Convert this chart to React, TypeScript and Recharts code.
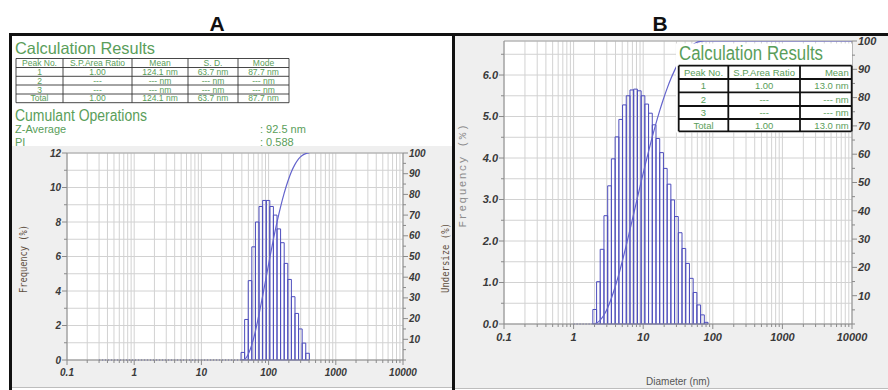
import React from 'react';
import { ComposedChart, Line, XAxis, YAxis, CartesianGrid, ReferenceArea, ReferenceLine } from 'recharts';

// ---------- shared axis ticks ----------
const xMajorTicks = [0.1, 1, 10, 100, 1000, 10000];
const xMajorLabels = ['0.1', '1', '10', '100', '1000', '10000'];
const xMinorSteps = [2, 3, 4, 5, 6, 7, 8, 9];
const undersizeTicks = [0, 5, 10, 15, 20, 25, 30, 35, 40, 45, 50, 55, 60, 65, 70, 75, 80, 85, 90, 95, 100];
const undersizeLabels = ['', '', '10', '', '20', '', '30', '', '40', '', '50', '', '60', '', '70', '', '80', '', '90', '', '100'];

// ---------- panel A ----------
const binEdgesA = [38.9, 44.0, 49.8, 56.3, 63.7, 72.0, 81.5, 92.2, 104.2, 117.9, 133.4, 150.8, 170.6, 193.0, 218.3, 246.9, 279.3, 315.9, 357.3, 404.2];
const freqA = [0.44, 2.35, 4.6, 6.56, 8.0, 8.9, 9.25, 9.25, 8.9, 8.4, 7.6, 6.8, 5.6, 4.67, 3.67, 2.7, 1.8, 0.98, 0.39];
const cumSizeA = [38.9, 44.0, 49.8, 56.3, 63.7, 72.0, 81.5, 92.2, 104.2, 117.9, 133.4, 150.8, 170.6, 193.0, 218.3, 246.9, 279.3, 315.9, 357.3, 404.2];
const cumA = [0, 0.4, 2.8, 7.4, 14.0, 22.0, 30.9, 40.1, 49.4, 58.3, 66.6, 74.0, 80.6, 86.2, 90.9, 94.5, 97.2, 98.8, 99.7, 100];
const freqTicksA = [0, 1, 2, 3, 4, 5, 6, 7, 8, 9, 10, 11, 12];
const freqLabelsA = ['0', '', '2', '', '4', '', '6', '', '8', '', '10', '', '12'];

// ---------- panel B ----------
const binEdgesB = [1.89, 2.14, 2.41, 2.73, 3.09, 3.49, 3.95, 4.47, 5.05, 5.71, 6.46, 7.30, 8.26, 9.34, 10.56, 11.94, 13.50, 15.27, 17.27, 19.53, 22.08, 24.97, 28.24, 31.93, 36.11, 40.83, 46.17, 52.22, 59.05, 66.77, 75.51, 85.39];
const freqB = [0.35, 1.02, 1.80, 2.61, 3.33, 3.98, 4.51, 4.93, 5.28, 5.50, 5.64, 5.66, 5.62, 5.50, 5.30, 5.08, 4.80, 4.47, 4.13, 3.75, 3.37, 2.99, 2.59, 2.20, 1.82, 1.46, 1.10, 0.76, 0.46, 0.22, 0.04];
const cumSizeB = [1.89, 2.14, 2.41, 2.73, 3.09, 3.49, 3.95, 4.47, 5.05, 5.71, 6.46, 7.30, 8.26, 9.34, 10.56, 11.94, 13.50, 15.27, 17.27, 19.53, 22.08, 24.97, 28.24, 31.93, 36.11, 40.83, 46.17, 52.22, 59.05, 66.77, 75.51, 85.39, 100, 1000, 10000];
const cumB = [0, 0.35, 1.37, 3.17, 5.78, 9.11, 13.09, 17.6, 22.53, 27.81, 33.31, 38.95, 44.61, 50.23, 55.73, 61.03, 66.11, 70.91, 75.38, 79.51, 83.26, 86.63, 89.62, 92.21, 94.41, 96.23, 97.69, 98.79, 99.55, 99.9, 100, 100, 100, 100, 100];
const freqTicksB = [0, 0.5, 1, 1.5, 2, 2.5, 3, 3.5, 4, 4.5, 5, 5.5, 6, 6.5];
const freqLabelsB = ['0.0', '', '1.0', '', '2.0', '', '3.0', '', '4.0', '', '5.0', '', '6.0', ''];

// ---------- tables ----------
const tableHeadA = ['Peak No.', 'S.P.Area Ratio', 'Mean', 'S. D.', 'Mode'];
const tableRowsA = [
  ['1', '1.00', '124.1 nm', '63.7 nm', '87.7 nm'],
  ['2', '---', '--- nm', '--- nm', '--- nm'],
  ['3', '---', '--- nm', '--- nm', '--- nm'],
  ['Total', '1.00', '124.1 nm', '63.7 nm', '87.7 nm'],
];
const tableHeadB = ['Peak No.', 'S.P.Area Ratio', 'Mean'];
const tableRowsB = [
  ['1', '1.00', '13.0 nm'],
  ['2', '---', '--- nm'],
  ['3', '---', '--- nm'],
  ['Total', '1.00', '13.0 nm'],
];
const zAverageA = '92.5 nm';
const piA = '0.588';

const xTicks: number[] = xMajorTicks.flatMap((d, i) =>
  i < xMajorTicks.length - 1 ? [d, ...xMinorSteps.map((m) => Number((d * m).toPrecision(3)))] : [d]
);

const BAR = '#4d4dbd';
const CURVE = '#6464cc';
const GRID = '#d2d2d2';
const AXIS = '#8a8a8a';
const LABEL = '#3a3a3a';
const GREEN = '#5a9e5a';

const tickFont = { fontFamily: 'Liberation Sans, Arial, sans-serif', fontStyle: 'italic' as const, fontWeight: 700 };

function makeXTick(dy: number, fs: number) {
  return (p: any) => {
    const v = p.payload.value;
    const idx = xMajorTicks.indexOf(v);
    const major = idx >= 0;
    return (
      <g>
        <line x1={p.x} x2={p.x} y1={p.y} y2={p.y + (major ? 5 : 3)} stroke={AXIS} strokeWidth={1} />
        {major && (
          <text x={p.x} y={p.y + dy} textAnchor="middle" fontSize={fs} fill={LABEL} {...tickFont}>
            {xMajorLabels[idx]}
          </text>
        )}
      </g>
    );
  };
}

function makeYTick(ticks: number[], labels: string[], side: 'left' | 'right', fs: number) {
  return (p: any) => {
    const v = p.payload.value;
    const idx = ticks.indexOf(v);
    const lab = idx >= 0 ? labels[idx] : '';
    const major = lab !== '' || (side === 'left' && v === 0);
    const len = major ? 5 : 3;
    const s = side === 'left' ? -1 : 1;
    return (
      <g>
        <line x1={p.x} x2={p.x + s * len} y1={p.y} y2={p.y} stroke={AXIS} strokeWidth={1} />
        {lab !== '' && (
          <text x={p.x + s * 6} y={p.y} dy="0.35em" textAnchor={side === 'left' ? 'end' : 'start'} fontSize={fs} fill={LABEL} {...tickFont}>
            {lab}
          </text>
        )}
      </g>
    );
  };
}

type PanelProps = {
  left: number; top: number; width: number; height: number; marginTop: number;
  leftW: number; rightW: number; xH: number;
  edges: number[]; freq: number[]; cumX: number[]; cum: number[];
  fMax: number; fTicks: number[]; fLabels: string[]; fs: number; xDy: number; zeroFrom: number;
};

function Panel(pp: PanelProps) {
  const data = pp.cumX.map((d, i) => ({ d, cum: pp.cum[i] }));
  return (
    <div style={{ position: 'absolute', left: pp.left, top: pp.top, width: pp.width, height: pp.height }}>
      <ComposedChart width={pp.width} height={pp.height} data={data} margin={{ top: pp.marginTop, right: 0, bottom: 0, left: 0 }}>
        <CartesianGrid yAxisId="left" stroke={GRID} strokeWidth={1} fill="#ffffff" />
        <XAxis dataKey="d" type="number" scale="log" domain={[0.1, 10000]} ticks={xTicks} interval={0}
          allowDataOverflow height={pp.xH} tickSize={0} tickMargin={0} tickLine={false}
          axisLine={{ stroke: AXIS }} tick={makeXTick(pp.xDy, pp.fs)} />
        <YAxis yAxisId="left" type="number" domain={[0, pp.fMax]} ticks={pp.fTicks} interval={0} allowDataOverflow
          width={pp.leftW} tickSize={0} tickMargin={0} tickLine={false} axisLine={{ stroke: AXIS }}
          tick={makeYTick(pp.fTicks, pp.fLabels, 'left', pp.fs)} />
        <YAxis yAxisId="right" orientation="right" type="number" domain={[0, 100]} ticks={undersizeTicks} interval={0}
          allowDataOverflow width={pp.rightW} tickSize={0} tickMargin={0} tickLine={false} axisLine={{ stroke: AXIS }}
          tick={makeYTick(undersizeTicks, undersizeLabels, 'right', pp.fs)} />
        <ReferenceLine yAxisId="left" y={pp.fMax} stroke="#a8a8a8" strokeWidth={1} />
        <ReferenceLine yAxisId="left" segment={[{ x: pp.zeroFrom, y: 0 }, { x: pp.edges[0], y: 0 }]}
          stroke={BAR} strokeWidth={1} strokeDasharray="1 2" />
        {pp.freq.map((f, i) => (
          <ReferenceArea key={i} yAxisId="left" x1={pp.edges[i]} x2={pp.edges[i + 1]} y1={0} y2={f}
            fill="none" fillOpacity={0} stroke={BAR} strokeWidth={1} ifOverflow="visible" />
        ))}
        <Line yAxisId="right" dataKey="cum" type="monotone" stroke={CURVE} strokeWidth={1.2} dot={false}
          activeDot={false} isAnimationActive={false} />
      </ComposedChart>
    </div>
  );
}

function Table(props: { cols: number[]; rows: number[]; head: string[]; body: string[][]; fs: number; stroke: string; sw: number; family: string; rightLast?: boolean }) {
  const { cols, rows, head, body, fs, stroke, sw, family } = props;
  const all = [head, ...body];
  return (
    <g>
      {rows.map((y, i) => (
        <line key={'r' + i} x1={cols[0]} x2={cols[cols.length - 1]} y1={y} y2={y} stroke={stroke} strokeWidth={sw} />
      ))}
      {cols.map((x, i) => (
        <line key={'c' + i} x1={x} x2={x} y1={rows[0]} y2={rows[rows.length - 1]} stroke={stroke} strokeWidth={sw} />
      ))}
      {all.map((row, r) =>
        row.map((cell, c) => {
          const last = props.rightLast && c === row.length - 1;
          const x = last ? cols[c + 1] - 3 : (cols[c] + cols[c + 1]) / 2;
          return (
            <text key={r + '-' + c} x={x} y={(rows[r] + rows[r + 1]) / 2} dy="0.36em" textAnchor={last ? 'end' : 'middle'}
              fontSize={fs} fill={GREEN} fontFamily={family}>
              {cell}
            </text>
          );
        })
      )}
    </g>
  );
}

export default function App() {
  const narrow = "'Liberation Sans Narrow', 'Arial Narrow', 'Liberation Sans', Arial, sans-serif";
  const sans = "'Liberation Sans', Arial, sans-serif";
  return (
    <div style={{ position: 'absolute', left: 0, top: 0, width: 888, height: 390, background: '#ffffff', overflow: 'hidden' }}>
      {/* panel backgrounds */}
      <div style={{ position: 'absolute', left: 12, top: 146, width: 440, height: 242, background: '#efefef' }} />
      <div style={{ position: 'absolute', left: 455, top: 36, width: 433, height: 353, background: '#efefef' }} />

      <Panel left={12} top={146} width={440} height={239} marginTop={7} leftW={55} rightW={49} xH={25}
        edges={binEdgesA} freq={freqA} cumX={cumSizeA} cum={cumA}
        fMax={12} fTicks={freqTicksA} fLabels={freqLabelsA} fs={10} xDy={16} zeroFrom={0.3} />
      <Panel left={455} top={37} width={433} height={352} marginTop={4} leftW={49} rightW={36} xH={65}
        edges={binEdgesB} freq={freqB} cumX={cumSizeB} cum={cumB}
        fMax={6.82} fTicks={freqTicksB} fLabels={freqLabelsB} fs={11} xDy={17} zeroFrom={1} />

      <svg width={888} height={390} style={{ position: 'absolute', left: 0, top: 0, pointerEvents: 'none' }}>
        <defs>
          <clipPath id="hdrA"><rect x={12} y={36} width={440} height={110} /></clipPath>
        </defs>
        {/* panel letters */}
        <text x={217} y={31} textAnchor="middle" fontSize={21} fontWeight={700} fontFamily={sans} fill="#111">A</text>
        <text x={660} y={31} textAnchor="middle" fontSize={21} fontWeight={700} fontFamily={sans} fill="#111">B</text>

        {/* frame */}
        <rect x={10} y={33} width={878} height={3} fill="#111" />
        <rect x={9} y={33} width={3} height={357} fill="#111" />
        <rect x={452} y={33} width={3} height={357} fill="#111" />
        <line x1={12} x2={452} y1={387.5} y2={387.5} stroke="#bdbdbd" />
        <line x1={455} x2={888} y1={388.5} y2={388.5} stroke="#bdbdbd" />

        {/* panel A header */}
        <g clipPath="url(#hdrA)">
          <text x={15} y={54} fontSize={16.5} fontFamily={sans} fill={GREEN} textLength={140} lengthAdjust="spacingAndGlyphs">Calculation Results</text>
          <Table cols={[16, 63, 132, 188, 238, 289]} rows={[58.5, 67.5, 76.3, 85, 94, 102.7]} head={tableHeadA} body={tableRowsA}
            fs={8.5} stroke="#333" sw={0.9} family={narrow} />
          <text x={15} y={120.5} fontSize={16} fontFamily={sans} fill={GREEN} textLength={132} lengthAdjust="spacingAndGlyphs">Cumulant Operations</text>
          <text x={15} y={133} fontSize={11} fontFamily={sans} fill={GREEN}>Z-Average</text>
          <text x={260} y={133} fontSize={11} fontFamily={sans} fill={GREEN}>{':  ' + zAverageA}</text>
          <text x={15} y={146} fontSize={11} fontFamily={sans} fill={GREEN}>PI</text>
          <text x={260} y={146} fontSize={11} fontFamily={sans} fill={GREEN}>{':  ' + piA}</text>
        </g>

        {/* panel A axis titles */}
        <text transform="translate(23,259) rotate(-90)" textAnchor="middle" dy="0.35em" fontSize={10}
          fontFamily="'DejaVu Sans Mono', monospace" fill="#5e4e40" textLength={68} lengthAdjust="spacingAndGlyphs">Frequency (%)</text>
        <text transform="translate(445,258) rotate(-90)" textAnchor="middle" dy="0.35em" fontSize={10}
          fontFamily="'DejaVu Sans Mono', monospace" fill="#5e4e40" textLength={70} lengthAdjust="spacingAndGlyphs">Undersize (%)</text>

        {/* panel B axis titles */}
        <text transform="translate(462,176) rotate(-90)" textAnchor="middle" dy="0.35em" fontSize={11}
          fontFamily="'Liberation Mono', 'Courier New', monospace" fill="#8c8c8c" textLength={103} lengthAdjust="spacing">Frequency (%)</text>
        <text x={678} y={385} textAnchor="middle" fontSize={10} fontFamily={sans} fill="#555">Diameter (nm)</text>

        {/* panel B results box */}
        <rect x={676} y={43.5} width={176} height={89} fill="#ffffff" />
        <text x={679} y={60} fontSize={20} fontFamily={narrow} fill={GREEN} textLength={144} lengthAdjust="spacingAndGlyphs">Calculation Results</text>
        <Table cols={[678.7, 728.3, 800, 851.7]} rows={[65.7, 79, 92.3, 106, 119, 131.3]} head={tableHeadB} body={tableRowsB}
          fs={9.5} stroke="#111" sw={1.8} family={narrow} rightLast />
      </svg>
    </div>
  );
}
